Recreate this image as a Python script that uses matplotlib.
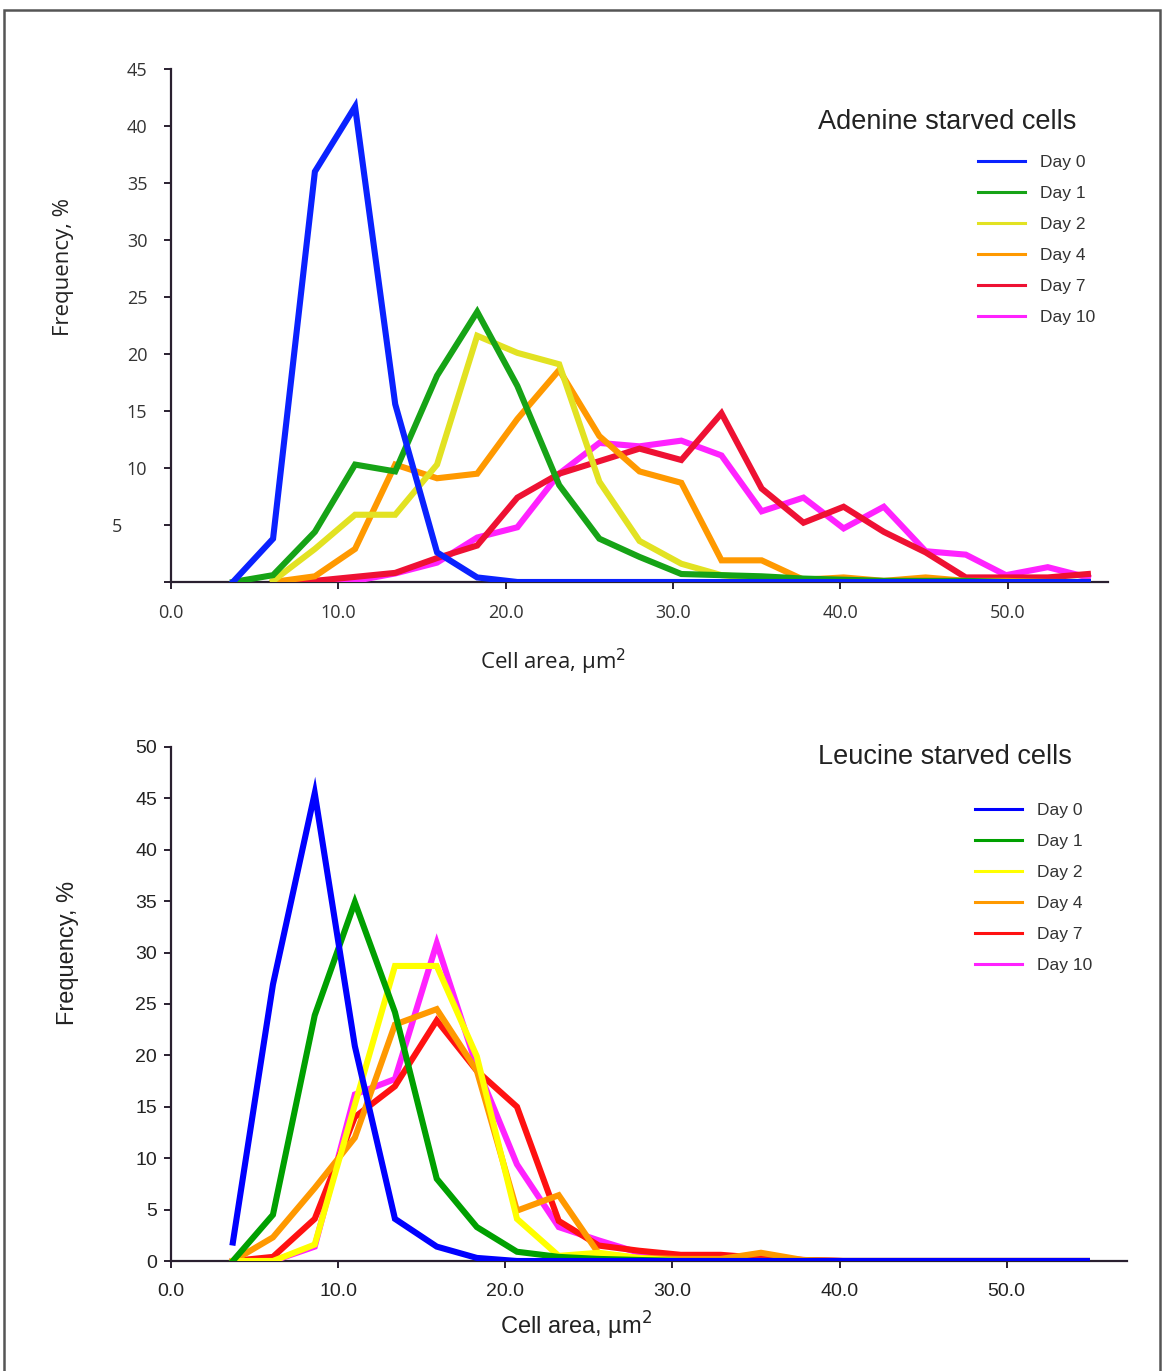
import numpy as np
import matplotlib
matplotlib.use("Agg")
import matplotlib.pyplot as plt
from matplotlib.transforms import ScaledTranslation
from matplotlib.patches import Rectangle

plt.rcParams['font.family'] = ['Liberation Sans', 'DejaVu Sans']

# --- data ---
cell_area = [3.7, 6.1, 8.6, 11.0, 13.4, 15.9, 18.3, 20.7, 23.2, 25.6, 28.0,
             30.5, 32.9, 35.3, 37.8, 40.2, 42.6, 45.1, 47.5, 49.9, 52.4, 54.8]
day_labels = ["Day 0", "Day 1", "Day 2", "Day 4", "Day 7", "Day 10"]

N = np.nan
ade_day0 = [0, 3.8, 36.0, 41.7, 15.6, 2.6, 0.4, 0, 0, 0, 0,
            0, 0, 0, 0, 0, 0, 0, 0, 0, 0, 0]
ade_day1 = [0, 0.6, 4.4, 10.3, 9.7, 18.1, 23.7, 17.2, 8.5, 3.8, 2.2,
            0.7, 0.6, 0.5, 0.3, 0.2, 0.1, 0.1, 0.1, 0, 0, 0]
ade_day2 = [N, 0.1, 2.9, 5.9, 5.9, 10.3, 21.6, 20.1, 19.1, 8.8, 3.6,
            1.6, 0.6, 0.3, 0.1, 0.1, 0, 0, 0, 0, 0, 0]
ade_day4 = [N, 0, 0.5, 2.9, 10.3, 9.1, 9.5, 14.3, 18.6, 12.8, 9.7,
            8.7, 1.9, 1.9, 0.2, 0.4, 0.1, 0.4, 0.1, 0.1, 0, 0]
ade_day7 = [N, 0, 0.1, 0.45, 0.8, 2.1, 3.2, 7.4, 9.5, 10.6, 11.7,
            10.7, 14.8, 8.2, 5.2, 6.6, 4.4, 2.6, 0.4, 0.4, 0.4, 0.7]
ade_day10 = [N, 0, 0, 0.1, 0.75, 1.7, 3.9, 4.8, 9.5, 12.2, 11.9,
             12.4, 11.1, 6.2, 7.4, 4.7, 6.6, 2.7, 2.4, 0.6, 1.3, 0.4]

leu_day0 = [1.8, 26.9, 45.5, 20.9, 4.1, 1.4, 0.3, 0, 0, 0, 0,
            0, 0, 0, 0, 0, 0, 0, 0, 0, 0, 0]
leu_day1 = [0, 4.5, 23.9, 34.9, 24.2, 8.0, 3.3, 0.9, 0.4, 0.2, 0.1,
            0, 0, 0, 0, 0, 0, 0, 0, 0, 0, 0]
leu_day2 = [0, 0, 1.6, 15.2, 28.7, 28.7, 19.9, 4.1, 0.5, 0.8, 0.3,
            0, 0, 0, 0, 0, 0, 0, 0, 0, 0, 0]
leu_day4 = [0, 2.3, 7.1, 12.0, 23.0, 24.5, 18.5, 4.9, 6.4, 0.7, 0.3,
            0.2, 0.2, 0.8, 0.1, 0, 0, 0, 0, 0, 0, 0]
leu_day7 = [0, 0.4, 4.1, 14.0, 17.0, 23.4, 18.5, 15.0, 3.9, 1.5, 1.0,
            0.6, 0.6, 0.3, 0.1, 0, 0, 0, 0, 0, 0, 0]
leu_day10 = [0, 0, 1.4, 16.2, 17.7, 30.9, 18.9, 9.4, 3.3, 2.0, 0.8,
             0.5, 0.3, 0.2, 0.1, 0, 0, 0, 0, 0, 0, 0]

ade_colors = ["#0a22ff", "#16a316", "#e2e222", "#ff9900", "#ee1133", "#ff22ff"]
leu_colors = ["#0000ff", "#00a000", "#ffff00", "#ff9900", "#ff1111", "#ff22ff"]

W, H = 1162, 1371
fig = plt.figure(figsize=(W / 100, H / 100), dpi=100)

# page frame
fig.patches.append(Rectangle((4 / W, -0.01), (1160 - 4) / W, 1.01 - 10 / H,
                             transform=fig.transFigure, fill=False,
                             edgecolor="#555555", lw=1.8))


def fx(px):
    return px / W


def fy(py):
    return 1 - py / H


def setup_axes(ax, ymax, xmax):
    ax.set_xlim(0, xmax)
    ax.set_ylim(0, ymax)
    for s in ["top", "right"]:
        ax.spines[s].set_visible(False)
    for s in ["left", "bottom"]:
        ax.spines[s].set_color("#2a2030")
        ax.spines[s].set_linewidth(1.6)
    ax.set_xticks([0, 10, 20, 30, 40, 50])
    ax.tick_params(axis="both", direction="out", length=5, width=1.4,
                   color="#2a2030")


def add_legend(ax, handles, x0, y0):
    leg = ax.legend(handles=handles, loc="upper left",
                    bbox_to_anchor=(fx(x0), fy(y0)),
                    bbox_transform=fig.transFigure, frameon=False,
                    fontsize=12.5, handlelength=2.7, handletextpad=0.85,
                    labelspacing=0.91, borderpad=0, borderaxespad=0)
    for lh in leg.get_lines():
        lh.set_linewidth(2.2)
    for t in leg.get_texts():
        t.set_color("#333333")
    return leg


# --- top panel: adenine ---
ax1 = fig.add_axes([fx(171), fy(582), fx(1108 - 171), (582 - 69) / H])
ade_series = [ade_day0, ade_day1, ade_day2, ade_day4, ade_day7, ade_day10]
handles = []
for vals, col, lab in zip(ade_series[::-1], ade_colors[::-1], day_labels[::-1]):
    ln, = ax1.plot(cell_area, vals, color=col, lw=4.4, label=lab,
                   solid_joinstyle="miter", zorder=3)
    handles.append(ln)
handles = handles[::-1]
setup_axes(ax1, 45, 56.0)
ax1.set_xticklabels(["0.0", "10.0", "20.0", "30.0", "40.0", "50.0"],
                    fontfamily="Open Sans")
ax1.set_yticks(range(0, 50, 5))
ax1.set_yticklabels([""] + [str(v) for v in range(5, 50, 5)],
                    fontfamily="Open Sans")
ax1.tick_params(axis="both", labelsize=13, labelcolor="#333333")
ax1.tick_params(axis="y", pad=12)
ax1.tick_params(axis="x", pad=11)
# the "5" label sits further left in the original
lab5 = ax1.get_yticklabels()[1]
lab5.set_transform(lab5.get_transform() +
                   ScaledTranslation(-0.25, 0, fig.dpi_scale_trans))
ax1.set_ylabel("Frequency, %", fontsize=16, fontfamily="Open Sans",
               color="#222222", va="center")
ax1.yaxis.set_label_coords((64 - 171) / (1108 - 171), 0.614)
ax1.set_xlabel("Cell area, µm$^2$", fontsize=16, fontfamily="Open Sans",
               color="#222222", va="center")
ax1.xaxis.set_label_coords((553 - 171) / (1108 - 171), -(662 - 582) / 513)

fig.text(fx(818), fy(122), "Adenine starved cells", fontsize=19.5,
         color="#222222", va="center", ha="left")
add_legend(ax1, handles, 978, 155)

# --- bottom panel: leucine ---
ax2 = fig.add_axes([fx(171), fy(1261), fx(1127 - 171), (1261 - 747) / H])
leu_series = [leu_day0, leu_day1, leu_day2, leu_day4, leu_day7, leu_day10]
handles = []
for vals, col, lab in zip(leu_series[::-1], leu_colors[::-1], day_labels[::-1]):
    ln, = ax2.plot(cell_area, vals, color=col, lw=4.4, label=lab,
                   solid_joinstyle="miter", zorder=3)
    handles.append(ln)
handles = handles[::-1]
setup_axes(ax2, 50, 57.2)
ax2.set_xticklabels(["0.0", "10.0", "20.0", "30.0", "40.0", "50.0"])
ax2.set_yticks(range(0, 55, 5))
ax2.tick_params(axis="both", labelsize=14, labelcolor="#222222")
ax2.tick_params(axis="y", pad=5)
ax2.tick_params(axis="x", pad=11)
ax2.set_ylabel("Frequency, %", fontsize=17, color="#222222", va="center")
ax2.yaxis.set_label_coords((68 - 171) / (1127 - 171), 0.60)
ax2.set_xlabel("Cell area, µm$^2$", fontsize=17, color="#222222", va="center")
ax2.xaxis.set_label_coords((576 - 171) / (1127 - 171), -(1326 - 1261) / 514)

fig.text(fx(818), fy(757), "Leucine starved cells", fontsize=19.5,
         color="#222222", va="center", ha="left")
add_legend(ax2, handles, 975, 803)

fig.savefig("out.png", dpi=100)
